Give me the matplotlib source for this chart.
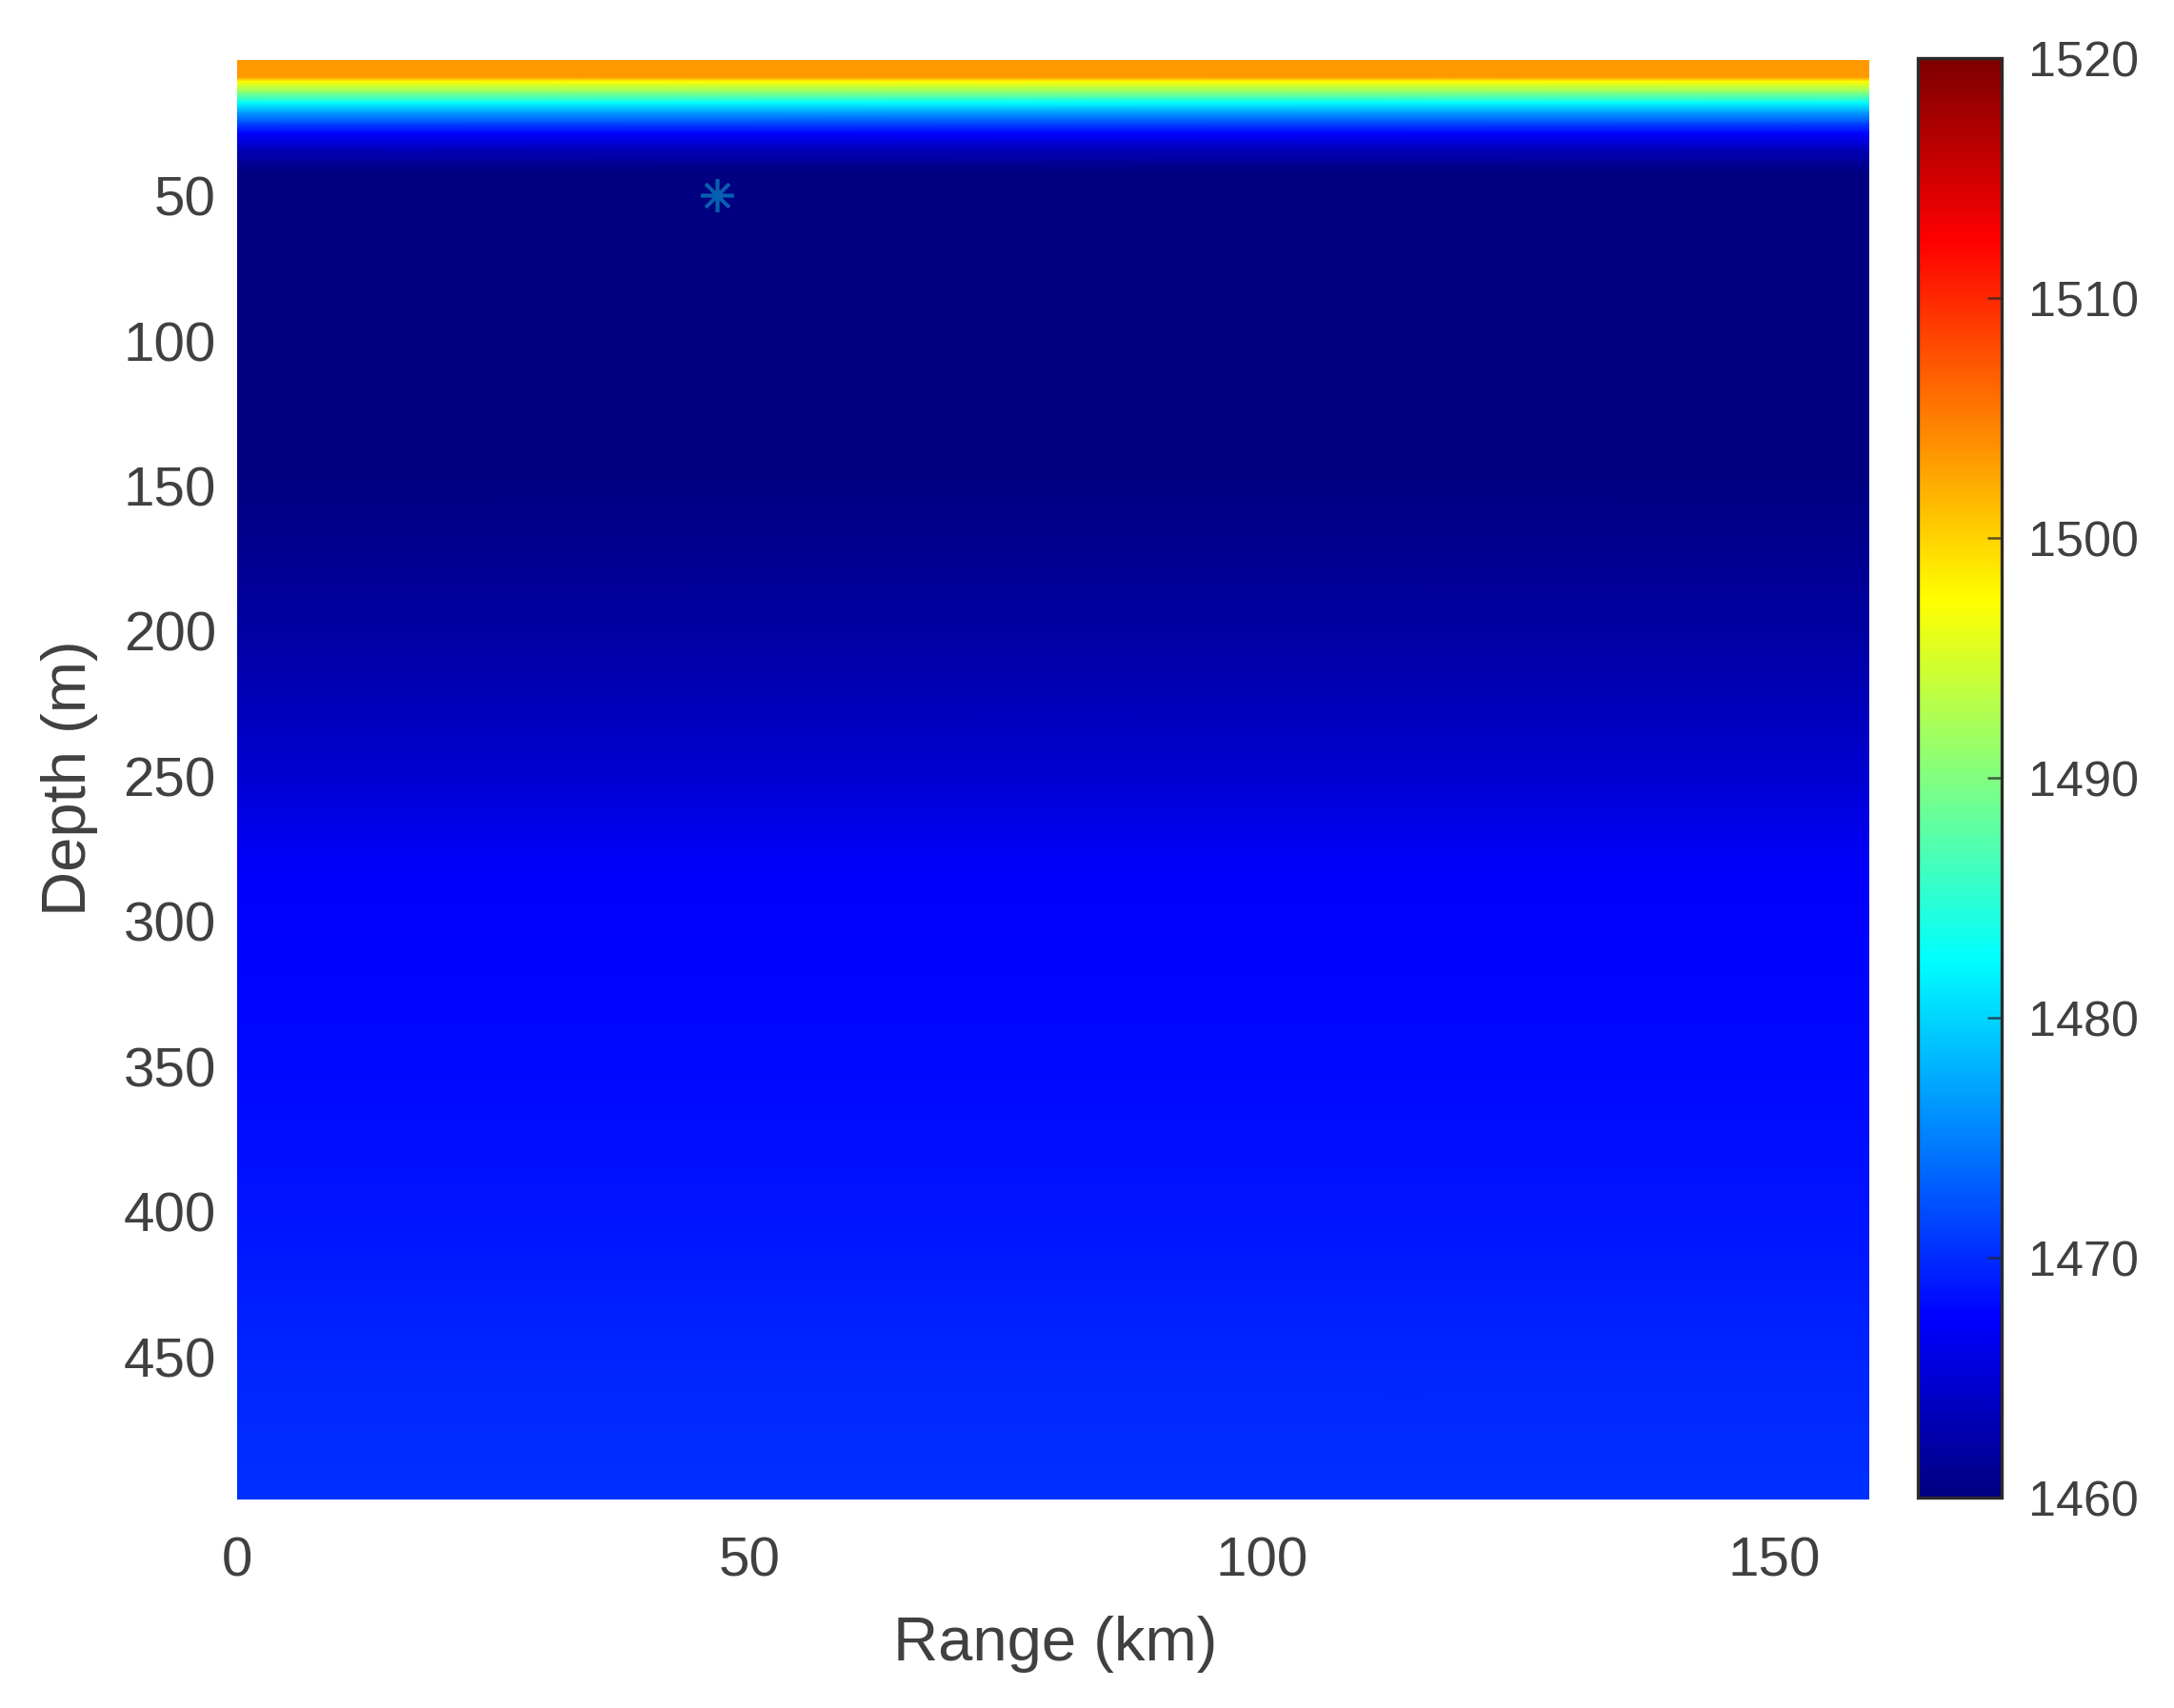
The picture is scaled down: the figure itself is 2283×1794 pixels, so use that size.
import numpy as np
import matplotlib
matplotlib.use("Agg")
import matplotlib.pyplot as plt
from matplotlib.colors import LinearSegmentedColormap

range_km = [0, 159.3]
depth_m = [3.2, 9.2, 10.0, 10.7, 14.6, 17.9, 21.2, 25.2, 28.6, 34.2, 41.7, 146.2, 201.2, 251.2, 283.2, 351.2, 401.2, 451.2, 499.2]
sound_speed = [1503.5, 1503.5, 1500.5, 1497.5, 1490, 1482.5, 1477, 1471.5, 1467.5, 1463.5, 1460,
               1460.2, 1462.25, 1465, 1467.4, 1468, 1468.7, 1469.8, 1470.5]
source_range = [46.8]
source_depth = [49.7]
x_ticks = [0, 50, 100, 150]
y_ticks = [50, 100, 150, 200, 250, 300, 350, 400, 450]
cbar_ticks = [1460, 1470, 1480, 1490, 1500, 1510, 1520]

W, H = 2283, 1794
plt.rcParams['font.family'] = ['Liberation Sans', 'DejaVu Sans']
TXT = '#404040'
FS = 42
LABEL_FS = 47
CBAR_FS = 37.5

matlab_jet = LinearSegmentedColormap('matlab_jet', {
    'red':   [(0, 0, 0), (0.375, 0, 0), (0.625, 1, 1), (0.875, 1, 1), (1, 0.5, 0.5)],
    'green': [(0, 0, 0), (0.125, 0, 0), (0.375, 1, 1), (0.625, 1, 1), (0.875, 0, 0), (1, 0, 0)],
    'blue':  [(0, 0.5, 0.5), (0.125, 1, 1), (0.375, 1, 1), (0.625, 0, 0), (1, 0, 0)],
}, N=256)

fig = plt.figure(figsize=(W / 100, H / 100), dpi=100)
ax = fig.add_axes([249 / W, 1 - 1575 / H, (1963 - 249) / W, (1575 - 63) / H])
cax = fig.add_axes([2014 / W, 1 - 1573 / H, (2102 - 2014) / W, (1573 - 61) / H])

Z = np.tile(np.array(sound_speed)[:, None], (1, len(range_km)))
mesh = ax.pcolormesh(range_km, depth_m, Z, cmap=matlab_jet, vmin=1460, vmax=1520,
                     shading='gouraud', rasterized=True)
ax.plot(source_range, source_depth, linestyle='none', marker=(8, 2, 0), markersize=25,
        markeredgewidth=2.6, color='#0560B0', zorder=3)
ax.set_xlim(range_km[0], range_km[1])
ax.set_ylim(depth_m[-1], depth_m[0])
ax.set_xticks(x_ticks)
ax.set_yticks(y_ticks)
for s in ax.spines.values():
    s.set_visible(False)
ax.tick_params(axis='x', length=0, pad=28, labelsize=FS, labelcolor=TXT)
ax.tick_params(axis='y', length=0, pad=16, labelsize=FS, labelcolor=TXT)
ax.set_xlabel('Range (km)', fontsize=LABEL_FS, color=TXT, labelpad=21, x=0.5013)
ax.set_ylabel('Depth (m)', fontsize=LABEL_FS, color=TXT, labelpad=19, y=0.5013)

cb = fig.colorbar(mesh, cax=cax, orientation='vertical')
cb.set_ticks(cbar_ticks)
cb.solids.set_edgecolor('face')
cb.outline.set_edgecolor('#2b2b2b')
cb.outline.set_linewidth(2.4)
cax.tick_params(axis='y', direction='in', length=11, width=1.8, color=(0.15, 0.15, 0.15, 0.75),
                pad=20, labelsize=CBAR_FS, labelcolor=TXT, right=True, left=False)

fig.savefig('out.png', dpi=100, facecolor='white')
